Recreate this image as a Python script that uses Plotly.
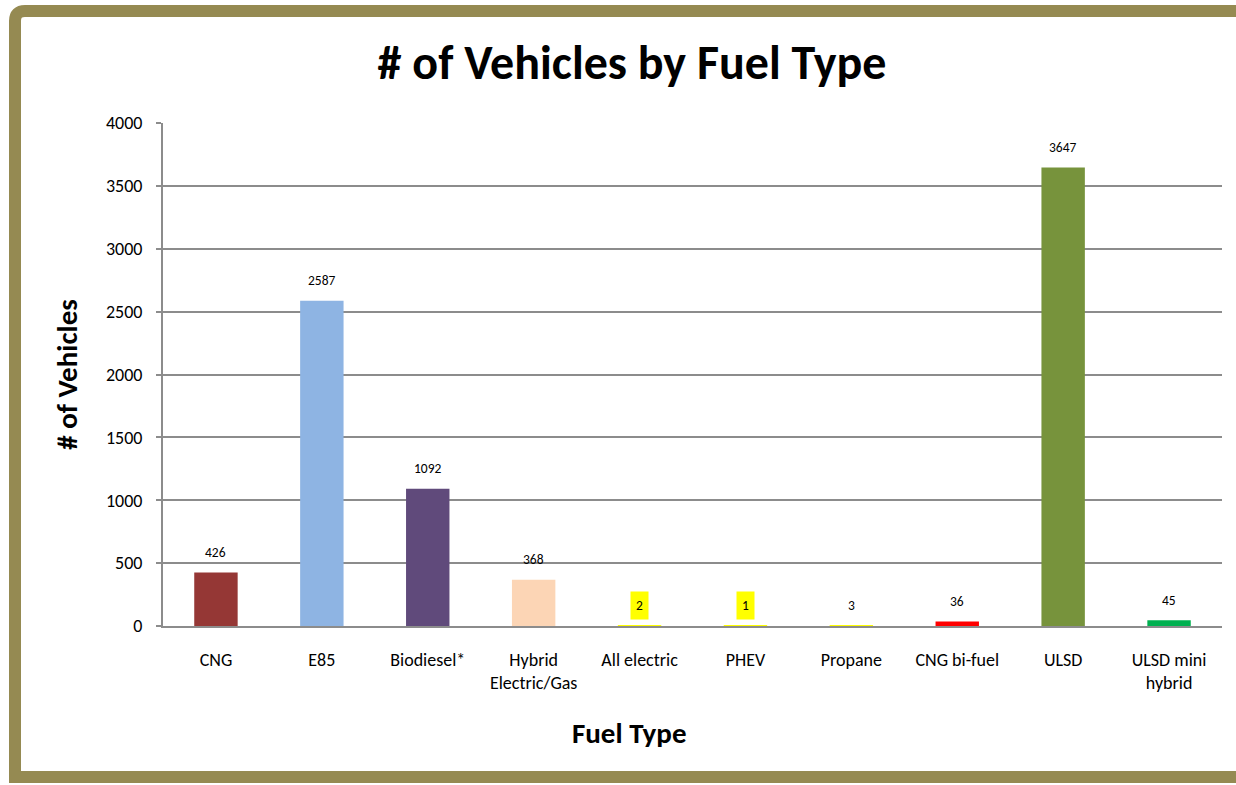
import plotly.graph_objects as go

categories = ["CNG", "E85", "Biodiesel*", "Hybrid<br>Electric/Gas", "All electric",
              "PHEV", "Propane", "CNG bi-fuel", "ULSD", "ULSD mini<br>hybrid"]
values = [426, 2587, 1092, 368, 2, 1, 3, 36, 3647, 45]
colors = ["#953735", "#8EB4E3", "#604A7B", "#FCD5B5", "#FFFF00",
          "#FFFF00", "#FFFF00", "#FF0000", "#77933C", "#00B050"]
label_bg = [None, None, None, None, "#FFFF00", "#FFFF00", None, None, None, None]
y_ticks = [0, 500, 1000, 1500, 2000, 2500, 3000, 3500, 4000]

FONT = "Carlito, Calibri, Lato, sans-serif"
W, H = 1236, 785
L, R, T, B = 163, 14, 123, 159

fig = go.Figure()
fig.add_trace(go.Bar(
    x=categories, y=values, marker=dict(color=colors, line=dict(width=0)),
    width=0.41, hoverinfo="x+y"))

for c, v, bg in zip(categories, values, label_bg):
    fig.add_annotation(
        x=c, y=v, xref="x", yref="y", text=str(v), showarrow=False,
        yshift=20, font=dict(family=FONT, size=13.5, color="#000000"),
        bgcolor=bg if bg else "rgba(0,0,0,0)", borderpad=5 if bg else 0)

# decorative olive border (pixel -> paper)
pw, ph = W - L - R, H - T - B
def px(x):
    return (x - L) / pw
def py(y):
    return (H - B - y) / ph

border = "#958A52"
rad = 10
path = (f"M {px(1300)},{py(11)} L {px(15+rad)},{py(11)} "
        f"Q {px(15)},{py(11)} {px(15)},{py(11+rad)} "
        f"L {px(15)},{py(777)} L {px(1300)},{py(777)}")
fig.add_shape(type="path", path=path, xref="paper", yref="paper",
              line=dict(color=border, width=12), layer="above")

# x-axis title (centred on the whole chart box, as in the original)
fig.add_annotation(text="<b>Fuel Type</b>", xref="paper", yref="paper",
                   x=px(629), y=py(733), xanchor="center", yanchor="middle",
                   showarrow=False, font=dict(family=FONT, size=29, color="#000000"))

fig.update_layout(
    width=W, height=H,
    margin=dict(l=L, r=R, t=T, b=B),
    paper_bgcolor="#FFFFFF", plot_bgcolor="#FFFFFF",
    font=dict(family=FONT, color="#000000"),
    bargap=0.59, showlegend=False,
    title=dict(text="<b># of Vehicles by Fuel Type</b>", x=632 / W, xref="container",
               xanchor="center", y=1 - 62 / H, yanchor="middle",
               font=dict(family=FONT, size=48, color="#000000")),
    xaxis=dict(
        tickfont=dict(family=FONT, size=18), showgrid=False, showline=True,
        linecolor="#8C8C8C", linewidth=2, ticks="", ticklabelstandoff=16,
        fixedrange=True),
    yaxis=dict(
        title=dict(text="<b># of Vehicles</b>", font=dict(family=FONT, size=29), standoff=20),
        range=[0, 4000], tickvals=y_ticks, ticktext=[str(t) for t in y_ticks],
        tickfont=dict(family=FONT, size=18), showgrid=True, gridcolor="#8C8C8C",
        gridwidth=1.5, showline=True, linecolor="#8C8C8C", linewidth=2,
        ticks="outside", ticklen=5, tickcolor="#8C8C8C", tickwidth=1.5,
        ticklabelstandoff=10, zeroline=False, fixedrange=True),
)

fig.write_html("out.html", config={"displayModeBar": False},
               post_script="document.body.style.margin='0';document.body.style.overflow='hidden';")
